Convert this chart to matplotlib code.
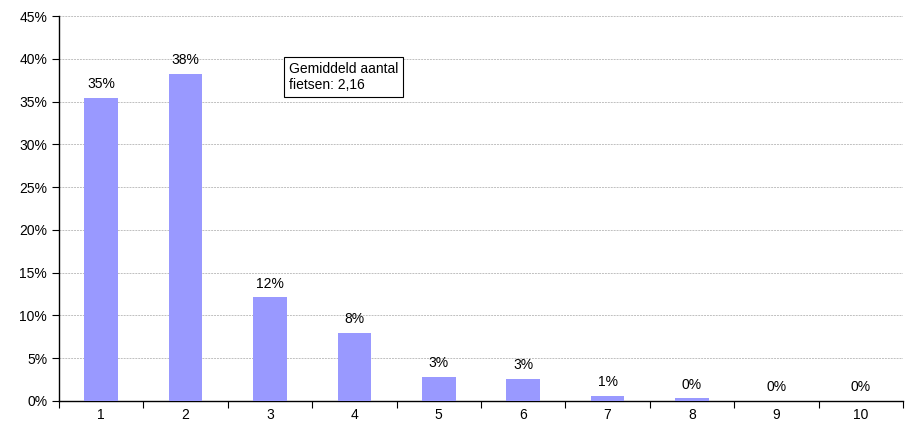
import numpy as np
import matplotlib.pyplot as plt
from matplotlib.ticker import FuncFormatter

plt.rcParams['font.family'] = ['Liberation Sans', 'DejaVu Sans']

# data: share of households by number of bicycles
categories = ['1', '2', '3', '4', '5', '6', '7', '8', '9', '10']
values = [35.4, 38.2, 12.1, 8.0, 2.8, 2.6, 0.6, 0.3, 0.05, 0.05]
labels = ['35%', '38%', '12%', '8%', '3%', '3%', '1%', '0%', '0%', '0%']
note = 'Gemiddeld aantal\nfietsen: 2,16'

fig = plt.figure(figsize=(9.06, 4.24), dpi=100)
ax = fig.add_axes([59/906, 23/424, 844/906, 385/424])

x = np.arange(1, len(categories) + 1)
ax.bar(x, values, width=0.4, color='#9999FF', zorder=3)

for xi, v, lab in zip(x, values, labels):
    ax.text(xi, v + 0.8, lab, ha='center', va='bottom', fontsize=10)

ax.set_xlim(0.5, len(categories) + 0.5)
ax.set_ylim(0, 45)
ax.set_yticks(np.arange(0, 46, 5))
ax.yaxis.set_major_formatter(FuncFormatter(lambda v, p: '%d%%' % v))
ax.grid(axis='y', color='#c0c0c0', linestyle=(0, (2, 1)), linewidth=0.7, zorder=0)

# category labels centred, tick marks between categories
ax.set_xticks(np.arange(0.5, len(categories) + 1, 1))
ax.set_xticklabels([])
ax.set_xticks(x, minor=True)
ax.set_xticklabels(categories, minor=True)
ax.tick_params(axis='x', which='minor', length=0, pad=5, labelsize=10)
ax.tick_params(axis='x', which='major', length=5, direction='out', color='black')
ax.tick_params(axis='y', length=5, labelsize=10, color='black')

for s in ['top', 'right']:
    ax.spines[s].set_visible(False)
for s in ['left', 'bottom']:
    ax.spines[s].set_color('black')
    ax.spines[s].set_linewidth(1)

ax.text(3.22, 39.6, note, ha='left', va='top', fontsize=10, linespacing=1.2,
        bbox=dict(boxstyle='square,pad=0.35', facecolor='white', edgecolor='black', linewidth=0.8),
        zorder=5)

fig.savefig('out.png', dpi=100)
